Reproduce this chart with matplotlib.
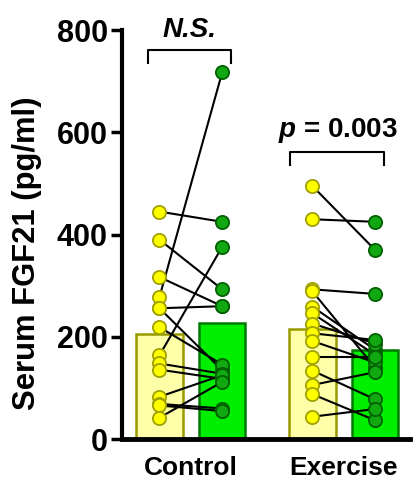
import matplotlib
matplotlib.use("Agg")
import matplotlib.pyplot as plt

plt.rcParams['font.family'] = ['Liberation Sans', 'DejaVu Sans']
plt.rcParams['font.weight'] = 'bold'
plt.rcParams['mathtext.fontset'] = 'custom'
plt.rcParams['mathtext.rm'] = 'Liberation Sans:bold'
plt.rcParams['mathtext.bf'] = 'Liberation Sans:bold'
plt.rcParams['mathtext.it'] = 'Liberation Sans:italic:bold'
plt.rcParams['mathtext.bfit'] = 'Liberation Sans:italic:bold'

# values (pg/ml)
groups = ['Control', 'Exercise']
control_pre = [445, 390, 317, 278, 256, 256, 219, 164, 148, 136, 83, 69, 66, 42]
control_post = [425, 293, 260, 717, 260, 135, 146, 376, 128, 118, 125, 60, 55, 112]
exercise_pre = [495, 430, 293, 289, 259, 246, 226, 207, 192, 160, 134, 106, 88, 44]
exercise_post = [370, 425, 284, 140, 175, 165, 187, 194, 150, 160, 78, 131, 37, 59]
bar_means = [205, 228, 216, 174]
annotations = ['N.S.', r'$\bfit{p}$ = 0.003']

pos = [0, 1, 2.44, 3.44]
bar_face = ['#FFFFAA', '#00EE00', '#FFFFAA', '#00EE00']
bar_edge = ['#999900', '#007A00', '#999900', '#007A00']

fig = plt.figure(figsize=(4.16, 4.8), dpi=100)
ax = fig.add_axes([0.293, 0.085, 0.693, 0.8525])

ax.bar(pos, bar_means, width=0.74, color=bar_face, edgecolor=bar_edge,
       linewidth=1.8, zorder=1)

pairs = [(control_pre, control_post, pos[0], pos[1]),
         (exercise_pre, exercise_post, pos[2], pos[3])]
for pre, post, x0, x1 in pairs:
    for a, b in zip(pre, post):
        ax.plot([x0, x1], [a, b], color='black', lw=1.5, zorder=2)
    ax.plot([x0] * len(pre), pre, 'o', ms=9.5, mfc='#FFFF00', mec='#A0A000',
            mew=1.3, ls='none', zorder=3, clip_on=False)
    ax.plot([x1] * len(post), post, 'o', ms=9.5, mfc='#12A812', mec='#006000',
            mew=1.3, ls='none', zorder=3, clip_on=False)

# significance brackets
def bracket(x0, x1, y, leg, label, style):
    ax.plot([x0, x0, x1, x1], [y - leg, y, y, y - leg], color='black',
            lw=1.5, clip_on=False)
    ax.text((x0 + x1) / 2, y + 14, label, ha='center', va='bottom',
            fontsize=20, fontweight='bold', fontstyle=style, clip_on=False)

bracket(-0.18, 1.14, 761, 25, annotations[0], 'italic')
bracket(2.09, 3.59, 561, 25, annotations[1], 'normal')

ax.set_xlim(-0.6, 4.0)
ax.set_ylim(0, 800)
ax.set_yticks([0, 200, 400, 600, 800])
ax.set_xticks([(pos[0] + pos[1]) / 2, (pos[2] + pos[3]) / 2])
ax.set_xticklabels(groups, fontsize=19, fontweight='bold')
ax.tick_params(axis='y', labelsize=22, width=2.5, length=8, pad=2)
ax.tick_params(axis='x', length=0, pad=12)
for lab in ax.get_yticklabels():
    lab.set_fontweight('bold')
ax.set_ylabel('Serum FGF21 (pg/ml)', fontsize=22.3, fontweight='bold')
ax.yaxis.set_label_coords(-0.278, 0.455)

for s in ['top', 'right']:
    ax.spines[s].set_visible(False)
ax.spines['left'].set_linewidth(3)
ax.spines['bottom'].set_linewidth(3.5)

fig.savefig('out.png', dpi=100)
